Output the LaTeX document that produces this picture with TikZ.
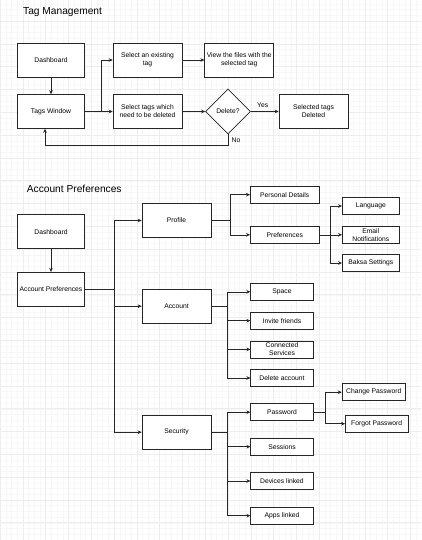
\documentclass[tikz,border=0pt]{standalone}
\usepackage{fontspec}
\setmainfont{Liberation Sans}
\usetikzlibrary{shapes.geometric,arrows.meta}
\tikzset{
  box/.style={draw=black!85, line width=0.6pt, fill=white, minimum width=67.5pt, minimum height=34pt, inner sep=0pt, align=center, font=\fontsize{6.75}{8}\selectfont},
  sbox/.style={box, minimum height=17pt},
  arr/.style={draw=black!85, line width=0.6pt, -{Stealth[length=4pt,width=3.6pt]}},
  ln/.style={draw=black!85, line width=0.6pt},
  ttl/.style={anchor=west, inner sep=0pt, font=\fontsize{10.2}{12}\selectfont},
  lbl/.style={inner sep=0pt, font=\fontsize{6.75}{8}\selectfont},
  gridminor/.style={draw=black!3, line width=0.4pt},
  gridmajor/.style={draw=black!7, line width=0.5pt},
}
\begin{document}
\begin{tikzpicture}[x=1pt,y=-1pt]
\useasboundingbox (0,0) rectangle (421,540);
\fill[white] (0,0) rectangle (421,540);
% grid
\foreach \k in {0,...,74} \draw[gridminor] ({\k*5.7},0) -- ({\k*5.7},540);
\foreach \k in {0,...,95} \draw[gridminor] (0,{\k*5.7-1.7}) -- (421,{\k*5.7-1.7});
\foreach \k in {0,...,18} \draw[gridmajor] ({\k*22.8},0) -- ({\k*22.8},540);
\foreach \k in {0,...,24} \draw[gridmajor] (0,{\k*22.8-1.7}) -- (421,{\k*22.8-1.7});

% ---------- Tag Management ----------
\node[ttl] (t1) at (23,12.3) {Tag Management};
\node[box] (dash1) at (51,60) {Dashboard};
\node[box] (tagwin) at (51,111.5) {Tags Window};
\node[box, minimum width=69pt] (selex) at (147.5,60) {Select an existing\\tag};
\node[box, minimum width=69pt] (seldel) at (147.5,111.5) {Select tags which\\need to be deleted};
\node[box, minimum width=69pt] (view) at (239.2,60) {View the files with the\\selected tag};
\node[diamond, draw=black!85, line width=0.6pt, fill=white, aspect=1, minimum size=45pt, inner sep=0pt, font=\fontsize{6.75}{8}\selectfont] (dia) at (228,111.5) {Delete?};
\node[box, minimum width=69pt] (deld) at (313.5,111.5) {Selected tags\\Deleted};
\node[lbl] (yes) at (262.7,105) {Yes};
\node[lbl] (no) at (236,140) {No};

\draw[arr] (dash1) -- (tagwin);
\coordinate (j1) at (101,111.5);
\draw[ln] (tagwin.east) -- (j1);
\draw[arr] (j1) |- (selex.west);
\draw[arr] (j1) -- (seldel.west);
\draw[arr] (selex) -- (view);
\draw[arr] (seldel) -- (dia);
\draw[arr] (dia) -- (deld);
\coordinate (fb) at (45,145.5);
\draw[arr] (dia.south) |- (fb) -- (fb |- tagwin.south);

% ---------- Account Preferences ----------
\node[ttl] (t2) at (26.7,189) {Account Preferences};
\node[box] (dash2) at (51,231.7) {Dashboard};
\node[box] (ap) at (51,289.2) {Account Preferences};
\node[box, minimum width=69pt] (prof) at (176.5,220.5) {Profile};
\node[box, minimum width=69pt] (acct) at (176.5,306.2) {Account};
\node[box, minimum width=69pt] (sec) at (176.5,432.2) {Security};

\node[sbox, minimum width=69pt] (pers) at (284.8,194.7) {Personal Details};
\node[sbox, minimum width=69pt] (pref) at (284.8,234.8) {Preferences};
\node[sbox, minimum width=57pt] (lang) at (370.8,206) {Language};
\node[sbox, minimum width=57pt] (email) at (370.8,234.8) {Email\\Notifications};
\node[sbox, minimum width=57pt] (baksa) at (370.8,263) {Baksa Settings};

\node[sbox, minimum width=62.6pt] (space) at (282,291.8) {Space};
\node[sbox, minimum width=62.6pt] (invite) at (282,320.7) {Invite friends};
\node[sbox, minimum width=62.6pt] (conn) at (282,349.4) {Connected\\Services};
\node[sbox, minimum width=62.6pt] (delacc) at (282,378) {Delete account};

\node[sbox, minimum width=62.6pt] (pw) at (282,412.2) {Password};
\node[sbox, minimum width=62.6pt] (sess) at (282,446.7) {Sessions};
\node[sbox, minimum width=62.6pt] (dev) at (282,481) {Devices linked};
\node[sbox, minimum width=62.6pt] (apps) at (282,515.7) {Apps linked};
\node[sbox, minimum width=63.3pt] (chpw) at (373.7,392.2) {Change Password};
\node[sbox, minimum width=62.7pt] (fgpw) at (376.7,423.7) {Forgot Password};

\draw[arr] (dash2) -- (ap);
\coordinate (apj) at (114,289.2);
\draw[ln] (ap.east) -- (apj);
\draw[arr] (apj) |- (prof.west);
\draw[arr] (apj) |- (acct.west);
\draw[arr] (apj) |- (sec.west);

\coordinate (pj) at (230.7,220.5);
\draw[ln] (prof.east) -- (pj);
\draw[arr] (pj) |- (pers.west);
\draw[arr] (pj) |- (pref.west);

\coordinate (prj) at (330.7,234.8);
\draw[ln] (pref.east) -- (prj);
\draw[arr] (prj) |- (lang.west);
\draw[arr] (prj) -- (email.west);
\draw[arr] (prj) |- (baksa.west);

\coordinate (aj) at (227.7,306.2);
\draw[ln] (acct.east) -- (aj);
\draw[arr] (aj) |- (space.west);
\draw[arr] (aj) |- (invite.west);
\draw[arr] (aj) |- (conn.west);
\draw[arr] (aj) |- (delacc.west);

\coordinate (sj) at (227.7,432.2);
\draw[ln] (sec.east) -- (sj);
\draw[arr] (sj) |- (pw.west);
\draw[arr] (sj) |- (sess.west);
\draw[arr] (sj) |- (dev.west);
\draw[arr] (sj) |- (apps.west);

\coordinate (pwj) at (325.3,412.2);
\draw[ln] (pw.east) -- (pwj);
\draw[arr] (pwj) |- (chpw.west);
\draw[arr] (pwj) |- (fgpw.west);
\end{tikzpicture}
\end{document}
